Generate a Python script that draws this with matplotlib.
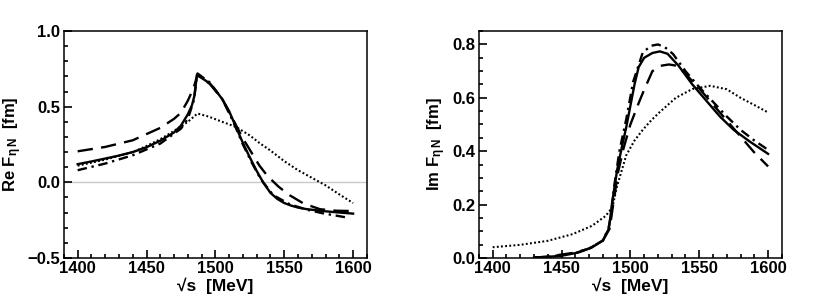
import numpy as np
import matplotlib
matplotlib.use('Agg')
import matplotlib.pyplot as plt
from matplotlib.ticker import MultipleLocator

plt.rcParams['font.family'] = ['Liberation Sans', 'DejaVu Sans']
plt.rcParams['font.weight'] = 'bold'
plt.rcParams['mathtext.fontset'] = 'custom'
plt.rcParams['mathtext.rm'] = 'Liberation Sans'
plt.rcParams['mathtext.it'] = 'Liberation Sans'

# Re F (left panel)
re_solid_E = [1400, 1410, 1420, 1430, 1440, 1450, 1460, 1470, 1475, 1480, 1483, 1485, 1486.5,
              1490, 1496, 1500, 1505, 1510, 1515, 1520, 1525, 1530, 1535, 1540, 1545, 1550,
              1555, 1560, 1566, 1578, 1590, 1600]
re_solid = [0.12, 0.138, 0.157, 0.177, 0.20, 0.232, 0.275, 0.33, 0.375, 0.45, 0.51, 0.58, 0.71,
            0.69, 0.654, 0.61, 0.55, 0.47, 0.365, 0.26, 0.165, 0.075, -0.005, -0.07, -0.11, -0.137,
            -0.154, -0.167, -0.177, -0.19, -0.2, -0.207]

re_dash_E = [1400, 1420, 1440, 1460, 1470, 1475, 1480, 1484, 1487, 1496, 1505, 1512, 1520, 1526,
             1532, 1538, 1546, 1554, 1564, 1576, 1588, 1600]
re_dash = [0.205, 0.234, 0.278, 0.36, 0.42, 0.46, 0.54, 0.62, 0.71, 0.65, 0.55, 0.43, 0.29, 0.20,
           0.11, 0.04, -0.03, -0.086, -0.14, -0.178, -0.188, -0.19]

re_dashdot_E = [1400, 1420, 1440, 1460, 1475, 1480, 1484, 1487, 1496, 1505, 1513, 1520, 1527,
                1533, 1542, 1554, 1566, 1578, 1595]
re_dashdot = [0.08, 0.124, 0.179, 0.256, 0.355, 0.42, 0.53, 0.72, 0.66, 0.55, 0.40, 0.25, 0.12,
              0.02, -0.085, -0.145, -0.18, -0.205, -0.232]

re_dot_E = [1400, 1420, 1440, 1450, 1460, 1470, 1480, 1487, 1495, 1505, 1515, 1525, 1532, 1540,
            1550, 1560, 1570, 1580, 1590, 1600]
re_dot = [0.11, 0.15, 0.20, 0.24, 0.285, 0.34, 0.40, 0.455, 0.435, 0.40, 0.366, 0.31, 0.26, 0.21,
          0.14, 0.08, 0.03, -0.02, -0.08, -0.137]

# Im F (right panel)
im_solid_E = [1430, 1440, 1450, 1462, 1472, 1480, 1484.4, 1486.8, 1490.4, 1494, 1497, 1500, 1503,
              1506, 1510, 1516, 1521.4, 1527, 1535, 1545, 1555, 1565, 1575, 1587, 1600]
im_solid = [0.001, 0.004, 0.008, 0.02, 0.039, 0.065, 0.11, 0.21, 0.33, 0.42, 0.49, 0.57, 0.65,
            0.715, 0.75, 0.768, 0.774, 0.765, 0.72, 0.65, 0.59, 0.53, 0.48, 0.435, 0.39]

im_dash_E = [1430, 1440, 1460, 1470, 1480, 1485, 1487.5, 1491, 1495, 1500, 1506, 1510, 1516, 1522,
             1528, 1534, 1540, 1550, 1560, 1570, 1580, 1590, 1600]
im_dash = [0.001, 0.005, 0.02, 0.035, 0.065, 0.11, 0.2, 0.32, 0.41, 0.50, 0.58, 0.63, 0.70, 0.72,
           0.725, 0.72, 0.69, 0.635, 0.575, 0.515, 0.455, 0.395, 0.343]

im_dashdot_E = [1430, 1440, 1460, 1470, 1480, 1484, 1486, 1488, 1492, 1497, 1502, 1509, 1515, 1520,
                1525, 1531, 1540, 1550, 1560, 1570, 1580, 1590, 1600]
im_dashdot = [0.001, 0.004, 0.018, 0.035, 0.065, 0.11, 0.16, 0.26, 0.40, 0.52, 0.66, 0.77, 0.795,
              0.80, 0.79, 0.764, 0.70, 0.64, 0.585, 0.53, 0.48, 0.44, 0.405]

im_dot_E = [1400, 1420, 1440, 1458, 1472, 1482, 1487, 1490, 1497, 1503, 1509, 1515, 1521, 1533,
            1545, 1558, 1570, 1580, 1590, 1600]
im_dot = [0.04, 0.049, 0.064, 0.089, 0.12, 0.157, 0.19, 0.263, 0.385, 0.44, 0.48, 0.515, 0.545,
          0.60, 0.633, 0.645, 0.632, 0.60, 0.573, 0.545]

lw = 1.7
styles = {
    'solid': dict(color='black', lw=lw, ls='-'),
    'dash': dict(color='black', lw=lw, ls=(0, (6.5, 3.5))),
    'dashdot': dict(color='black', lw=lw, ls=(0, (4, 2, 1, 2))),
    'dot': dict(color='black', lw=1.5, ls=(0, (0.9, 1.1))),
}


def style_axes(ax, ymaj, ymin):
    ax.set_xlim(1390, 1610)
    ax.xaxis.set_major_locator(MultipleLocator(50))
    ax.xaxis.set_minor_locator(MultipleLocator(10))
    ax.yaxis.set_major_locator(MultipleLocator(ymaj))
    ax.yaxis.set_minor_locator(MultipleLocator(ymin))
    ax.tick_params(which='both', direction='in', top=False, right=False, labelsize=12, width=1.2)
    ax.tick_params(which='major', length=6, pad=2.5)
    ax.tick_params(which='minor', length=3)
    for s in ax.spines.values():
        s.set_linewidth(1.1)
    for lab in ax.get_xticklabels() + ax.get_yticklabels():
        lab.set_fontweight('bold')
    ax.set_xlabel('√s  [MeV]', fontsize=12.5, fontweight='bold', labelpad=1)


fig = plt.figure(figsize=(8.3, 3.02), dpi=100)
ax1 = fig.add_axes([0.077, 0.146, 0.365, 0.751])
ax2 = fig.add_axes([0.577, 0.146, 0.365, 0.751])

ax1.axhline(0, color='#c8c8c8', lw=1, zorder=0)
ax1.plot(re_dot_E, re_dot, **styles['dot'])
ax1.plot(re_dash_E, re_dash, **styles['dash'])
ax1.plot(re_dashdot_E, re_dashdot, **styles['dashdot'])
ax1.plot(re_solid_E, re_solid, **styles['solid'])
ax1.set_ylim(-0.5, 1.0)
style_axes(ax1, 0.5, 0.1)
ax1.set_ylabel(r'Re F$_{\eta\,N}$  [fm]', fontsize=12, fontweight='bold', labelpad=3)

ax2.plot(im_dot_E, im_dot, **styles['dot'])
ax2.plot(im_dash_E, im_dash, **styles['dash'])
ax2.plot(im_dashdot_E, im_dashdot, **styles['dashdot'])
ax2.plot(im_solid_E, im_solid, **styles['solid'])
ax2.set_ylim(0, 0.85)
style_axes(ax2, 0.2, 0.05)
ax2.set_ylabel(r'Im F$_{\eta\,N}$  [fm]', fontsize=12, fontweight='bold', labelpad=3)

fig.savefig('out.png', dpi=100)
